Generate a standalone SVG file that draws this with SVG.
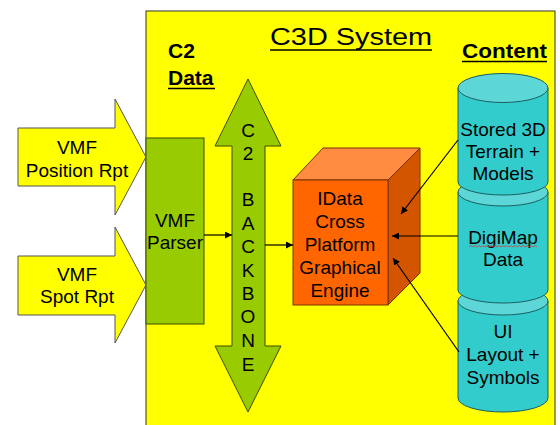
<svg xmlns="http://www.w3.org/2000/svg" width="560" height="425" viewBox="0 0 560 425">
<defs>
<style>
text{font-family:"Liberation Sans",Arial,sans-serif;fill:#000;text-anchor:middle}
.lbl{font-size:19px}
.hdr{font-size:21px;font-weight:bold;text-anchor:start}
.inarrow{fill:#FFFF00;stroke:#555;stroke-width:1}
.green{fill:#99CC00;stroke:#3d4d00;stroke-width:1}
.cylb{fill:#33CCCC;stroke:#1d5f5f;stroke-width:1}
.cylt{fill:#5CD6D6;stroke:#1d5f5f;stroke-width:1}
.conn{stroke:#000;stroke-width:1.2;fill:none;marker-end:url(#ah)}
.ul{stroke:#000;stroke-width:1.5}
</style>
<marker id="ah" viewBox="0 0 10 10" refX="10" refY="5" markerWidth="7" markerHeight="7" markerUnits="userSpaceOnUse" orient="auto">
<path d="M0,0 L10,5 L0,10 Z" fill="#000"/>
</marker>
</defs>
<rect width="560" height="425" fill="#fff"/>
<g id="system">
<rect x="146" y="11" width="409" height="420" fill="#FFFF00" stroke="#333" stroke-width="1"/>
<text x="270" y="45" font-size="24" style="text-anchor:start" textLength="162" lengthAdjust="spacingAndGlyphs">C3D System</text>
<line class="ul" x1="270" y1="50" x2="432" y2="50"/>
</g>
<g id="c2data">
<text class="hdr" x="168" y="58">C2</text>
<text class="hdr" x="168" y="85">Data</text>
<line class="ul" x1="168" y1="88.5" x2="215" y2="88.5"/>
</g>
<g id="content">
<text class="hdr" x="462" y="58" font-size="22" textLength="85" lengthAdjust="spacingAndGlyphs">Content</text>
<line class="ul" x1="462" y1="61.5" x2="547" y2="61.5"/>
</g>
<g id="pos">
<polygon class="inarrow" points="18,128 115,128 115,99 146,157 115,215 115,186 18,186"/>
<text class="lbl" x="77" y="154">VMF</text>
<text class="lbl" x="77" y="177">Position Rpt</text>
</g>
<g id="spot">
<polygon class="inarrow" points="18,256 115,256 115,227 146,285 115,343 115,315 18,315"/>
<text class="lbl" x="77" y="281">VMF</text>
<text class="lbl" x="77" y="303">Spot Rpt</text>
</g>
<g id="parser">
<rect class="green" x="146" y="138" width="58" height="186"/>
<text class="lbl" x="175" y="227">VMF</text>
<text class="lbl" x="175" y="249">Parser</text>
</g>
<g id="backbone">
<path class="green" d="M248,79 L281,146 L265,146 L265,346 L281,346 L248,412 L215,346 L232,346 L232,146 L215,146 Z"/>
<text class="lbl" x="248" y="137">C</text>
<text class="lbl" x="248" y="160">2</text>
<text class="lbl" x="248" y="206">B</text>
<text class="lbl" x="248" y="230">A</text>
<text class="lbl" x="248" y="253">C</text>
<text class="lbl" x="248" y="277">K</text>
<text class="lbl" x="248" y="300">B</text>
<text class="lbl" x="248" y="323">O</text>
<text class="lbl" x="248" y="347">N</text>
<text class="lbl" x="248" y="371">E</text>
</g>
<g id="engine">
<polygon points="293,180 323,148 420,148 388,180" fill="#FF8C40" stroke="#7a3000" stroke-width="1"/>
<polygon points="388,180 420,148 420,273 388,305" fill="#D45500" stroke="#7a3000" stroke-width="1"/>
<rect x="293" y="180" width="95" height="125" fill="#FF6600" stroke="#7a3000" stroke-width="1"/>
<text class="lbl" x="340" y="205">IData</text>
<text class="lbl" x="340" y="228">Cross</text>
<text class="lbl" x="340" y="251">Platform</text>
<text class="lbl" x="340" y="274">Graphical</text>
<text class="lbl" x="340" y="297">Engine</text>
</g>
<g id="ui">
<path class="cylb" d="M458,301 V398 A45,14 0 0 0 548,398 V301 Z"/>
<ellipse class="cylt" cx="503" cy="301" rx="45" ry="14"/>
<text class="lbl" x="503" y="338">UI</text>
<text class="lbl" x="503" y="361">Layout +</text>
<text class="lbl" x="503" y="384">Symbols</text>
</g>
<g id="digimap">
<path class="cylb" d="M458,192 V290 A45,13 0 0 0 548,290 V192 Z"/>
<ellipse class="cylt" cx="503" cy="192" rx="45" ry="14"/>
<text class="lbl" x="503" y="244">DigiMap</text>
<path d="M469,247 l2,-1.5 l2,1.5 l2,-1.5 l2,1.5 l2,-1.5 l2,1.5 l2,-1.5 l2,1.5 l2,-1.5 l2,1.5 l2,-1.5 l2,1.5 l2,-1.5 l2,1.5 l2,-1.5 l2,1.5 l2,-1.5 l2,1.5 l2,-1.5 l2,1.5 l2,-1.5 l2,1.5 l2,-1.5 l2,1.5 l2,-1.5 l2,1.5 l2,-1.5 l2,1.5 l2,-1.5 l2,1.5 l2,-1.5 l2,1.5 l2,-1.5 l2,1.5" fill="none" stroke="#d04040" stroke-width="0.8"/>
<text class="lbl" x="503" y="266">Data</text>
</g>
<g id="stored">
<path class="cylb" d="M458,88 V182 A45,13 0 0 0 548,182 V88 Z"/>
<ellipse class="cylt" cx="503" cy="88" rx="45" ry="14.5"/>
<text class="lbl" x="503" y="136">Stored 3D</text>
<text class="lbl" x="503" y="158">Terrain +</text>
<text class="lbl" x="503" y="180">Models</text>
</g>
<g id="connectors">
<line class="conn" x1="204" y1="235" x2="232" y2="235"/>
<line class="conn" x1="265" y1="245" x2="293" y2="245"/>
<line class="conn" x1="458" y1="140" x2="401" y2="214"/>
<line class="conn" x1="458" y1="236" x2="392" y2="236"/>
<line class="conn" x1="459" y1="352" x2="393" y2="258"/>
</g>
</svg>
